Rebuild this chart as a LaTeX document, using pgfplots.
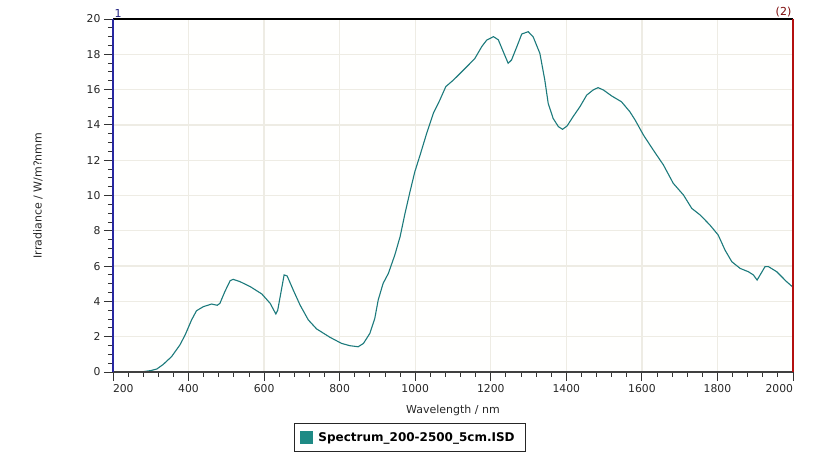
\documentclass[border=0pt]{standalone}
\usepackage{pgfplots}
\pgfplotsset{compat=1.18}
\usepackage{fontspec}
\setmainfont{DejaVu Sans}

\definecolor{curvecol}{RGB}{28,122,124}
\definecolor{legsq}{RGB}{30,138,133}
\definecolor{gridcol}{RGB}{238,236,228}
\definecolor{leftcol}{RGB}{40,40,160}
\definecolor{rightcol}{RGB}{180,16,16}
\definecolor{bgcol}{RGB}{255,255,254}

\pgfplotstableread{
lambda irr
250 0
280 0.02
300 0.08
316 0.17
333 0.43
355 0.87
377 1.53
391 2.1
408 2.95
421 3.47
439 3.7
461 3.85
476 3.78
483 3.89
496 4.55
510 5.17
518 5.25
536 5.12
563 4.84
594 4.42
616 3.89
631 3.29
636 3.5
653 5.5
661 5.44
677 4.65
695 3.8
717 2.95
739 2.44
774 1.97
805 1.62
827 1.49
849 1.43
863 1.62
880 2.19
893 3.04
902 4.08
915 5.02
929 5.59
946 6.63
960 7.67
973 8.99
986 10.2
999 11.35
1013 12.3
1030 13.5
1048 14.66
1065 15.4
1081 16.17
1101 16.54
1118 16.9
1140 17.37
1158 17.77
1176 18.43
1189 18.8
1207 19.0
1220 18.82
1233 18.15
1246 17.49
1255 17.68
1269 18.43
1282 19.15
1299 19.28
1312 19.0
1330 18.05
1343 16.54
1352 15.22
1365 14.37
1379 13.9
1390 13.75
1402 13.94
1418 14.47
1436 15.03
1454 15.69
1471 15.98
1484 16.11
1498 15.98
1520 15.64
1546 15.31
1568 14.75
1582 14.28
1604 13.43
1630 12.58
1657 11.73
1683 10.69
1710 10.03
1732 9.27
1754 8.9
1780 8.33
1802 7.76
1820 6.91
1838 6.25
1860 5.87
1882 5.68
1895 5.5
1905 5.21
1926 5.97
1935 5.97
1957 5.68
1983 5.12
2000 4.8
}\spectrum

\begin{document}
\begin{tikzpicture}
\useasboundingbox (0pt,0pt) rectangle (823pt,460pt);
\begin{axis}[
    at={(113pt,88pt)}, anchor=south west,
    scale only axis, width=680pt, height=353pt,
    xmin=200, xmax=2000, ymin=0, ymax=20,
    clip mode=individual,
    xtick={200,400,...,2000},
    xticklabels={\makebox[0pt][l]{200},400,600,800,1000,1200,1400,1600,1800,\makebox[0pt][r]{2000}},
    ytick={0,2,...,20},
    minor x tick num=4, minor y tick num=3,
    tick align=outside, xtick pos=bottom, ytick pos=left,
    major tick length=9pt, minor tick length=5pt,
    tick style={black!80, line width=0.9pt},
    grid=major, major grid style={gridcol, line width=1.3pt},
    axis line style={draw=none},
    axis background/.style={fill=bgcol},
    /pgf/number format/assume math mode=true,
    ticklabel style={font=\fontsize{10.8}{12}\selectfont, text=black!85},
    label style={font=\fontsize{11}{13}\selectfont, text=black!85},
    xlabel={Wavelength / nm},
    ylabel={Irradiance / W/m?nmm},
    xlabel style={at={(axis description cs:0.5,-0.1076)}, anchor=center},
    ylabel style={at={(axis description cs:-0.1103,0.5)}, anchor=center},
    legend style={at={(axis description cs:0.4368,-0.1856)}, anchor=center,
        draw=black!85, line width=0.9pt,
        font=\fontsize{12}{14}\selectfont\bfseries,
        inner xsep=6pt, inner ysep=7pt,
        nodes={inner xsep=5pt}},
    legend image code/.code={\fill[legsq] (0pt,-6pt) rectangle (12pt,6pt);},
]
\addplot[curvecol, line width=1.1pt] table[x=lambda, y=irr] {\spectrum};
\addlegendentry{Spectrum\_200-2500\_5cm.ISD}
\draw[black!75, line width=1.2pt] (rel axis cs:0,0) -- (rel axis cs:1,0);
\draw[black, line width=1.2pt] (rel axis cs:0,1) -- (rel axis cs:1,1);
\draw[leftcol, line width=1.6pt] (rel axis cs:0,0) -- (rel axis cs:0,1);
\draw[rightcol, line width=2pt] (rel axis cs:1,0) -- (rel axis cs:1,1);
\node[anchor=south west, inner sep=1.5pt, text=leftcol!80!black, font=\fontsize{11}{13}\selectfont] at (rel axis cs:0,1) {1};
\node[anchor=south east, inner sep=1.5pt, text=rightcol!70!black, font=\fontsize{11}{13}\selectfont] at (rel axis cs:1,1) {(2)};
\end{axis}
\end{tikzpicture}
\end{document}
